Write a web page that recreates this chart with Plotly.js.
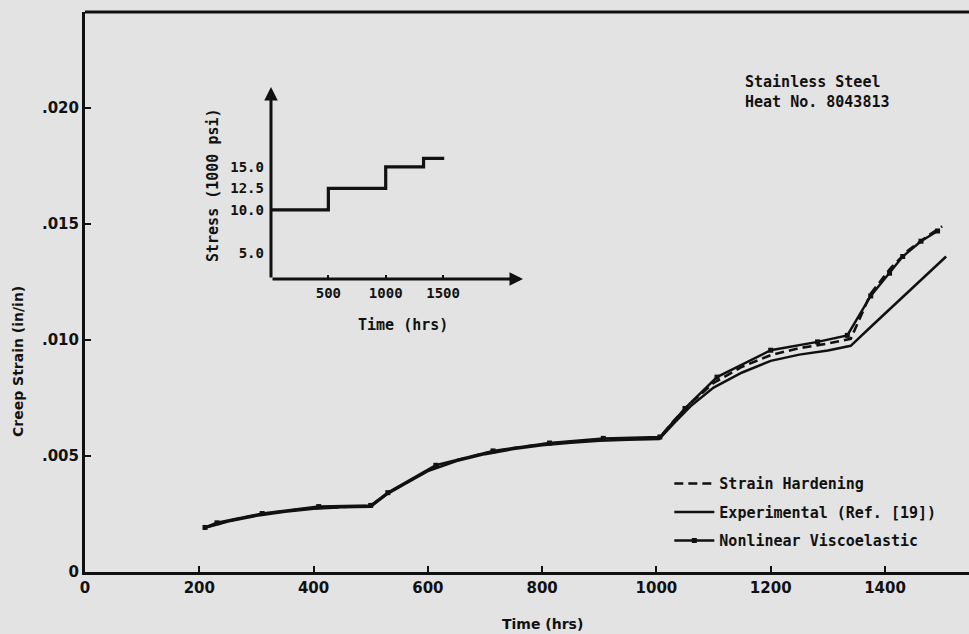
<!DOCTYPE html>
<html>
<head>
<meta charset="utf-8">
<script src="https://cdn.plot.ly/plotly-3.0.1.min.js"></script>
<style>html,body{margin:0;padding:0;background:#e3e3e3;}#chart{width:969px;height:634px;}</style>
</head>
<body>
<div id="chart"></div>
<script>
// ---- Main chart data (time in hours, creep strain in in/in) ----
const timeSH = [210, 250, 300, 350, 400, 450, 500, 530, 560, 600, 650, 700, 750, 800, 850, 900, 950, 1005, 1030, 1060, 1100, 1150, 1200, 1250, 1300, 1340, 1375, 1410, 1440, 1470, 1500];
const strainSH = [0.00192, 0.00220, 0.00245, 0.00263, 0.00276, 0.00282, 0.00285, 0.00340, 0.00383, 0.00438, 0.00482, 0.00512, 0.00534, 0.00550, 0.00561, 0.00570, 0.00574, 0.00577, 0.00650, 0.00728, 0.00815, 0.00885, 0.00935, 0.00965, 0.00985, 0.01005, 0.01200, 0.01310, 0.01385, 0.01440, 0.01490];

const timeExp = [210, 250, 300, 350, 400, 450, 500, 530, 560, 600, 650, 700, 750, 800, 850, 900, 950, 1005, 1030, 1060, 1100, 1150, 1200, 1250, 1300, 1340, 1380, 1420, 1460, 1507];
const strainExp = [0.00190, 0.00218, 0.00242, 0.00260, 0.00273, 0.00279, 0.00281, 0.00338, 0.00380, 0.00435, 0.00478, 0.00508, 0.00530, 0.00546, 0.00557, 0.00566, 0.00570, 0.00573, 0.00640, 0.00715, 0.00795, 0.00860, 0.00910, 0.00937, 0.00955, 0.00975, 0.01068, 0.01160, 0.01252, 0.01360];

const timeNV = [210, 231, 310, 409, 500, 530, 614, 714, 813, 907, 1006, 1050, 1106, 1200, 1282, 1334, 1375, 1408, 1431, 1463, 1492];
const strainNV = [0.00192, 0.00212, 0.00252, 0.00282, 0.00287, 0.00342, 0.00460, 0.00522, 0.00556, 0.00576, 0.00582, 0.00705, 0.00840, 0.00956, 0.00992, 0.01020, 0.01190, 0.01288, 0.01360, 0.01426, 0.01470];

const xTickVals = [0, 200, 400, 600, 800, 1000, 1200, 1400];
const xTickText = ['0', '200', '400', '600', '800', '1000', '1200', '1400'];
const yTickVals = [0, 0.005, 0.010, 0.015, 0.020];
const yTickText = ['0', '.005', '.010', '.015', '.020'];

// ---- Inset data (stress history) ----
const insetTime = [0, 500, 1000, 1330, 1510];
const insetStress = [10.0, 12.5, 15.0, 16.0, 16.0];
const insetXTickVals = [500, 1000, 1500];
const insetXTickText = ['500', '1000', '1500'];
const insetYTickVals = [5.0, 10.0, 12.5, 15.0];
const insetYTickText = ['5.0', '10.0', '12.5', '15.0'];

const ink = '#111111';
const bg = '#e3e3e3';
const mono = 'DejaVu Sans Mono, Liberation Mono, monospace';
const sansB = 'DejaVu Sans, Liberation Sans, sans-serif';

const traces = [
  {x: timeSH, y: strainSH, type: 'scatter', mode: 'lines', name: 'Strain Hardening',
   legendgroup: 'a', line: {color: ink, width: 2.6, dash: '9px,5px'}, xaxis: 'x', yaxis: 'y'},
  {x: timeExp, y: strainExp, type: 'scatter', mode: 'lines', name: 'Experimental (Ref. [19])',
   legendgroup: 'b', line: {color: ink, width: 2.5}, xaxis: 'x', yaxis: 'y'},
  {x: timeNV, y: strainNV, type: 'scatter', mode: 'lines+markers', name: 'Nonlinear Viscoelastic',
   legendgroup: 'c', line: {color: ink, width: 2.5}, marker: {symbol: 'square', size: 5, color: ink},
   xaxis: 'x', yaxis: 'y'},
  {x: insetTime, y: insetStress, type: 'scatter', mode: 'lines', showlegend: false,
   line: {color: ink, width: 3.2, shape: 'hv'}, xaxis: 'x2', yaxis: 'y2'}
];

const insetXMax = 2197, insetYMin = 1.96, insetYMax = 24.3;

const layout = {
  width: 969, height: 634,
  margin: {l: 85, r: 0, t: 12, b: 62},
  paper_bgcolor: bg, plot_bgcolor: bg,
  showlegend: true,
  legend: {x: 0.661, y: 0.187, xanchor: 'left', yanchor: 'top', bgcolor: 'rgba(0,0,0,0)',
           font: {family: mono, size: 15, color: ink, weight: 'bold'},
           traceorder: 'grouped', tracegroupgap: 6, itemwidth: 40},
  xaxis: {range: [0, 1547], tickvals: xTickVals, ticktext: xTickText, showgrid: false, zeroline: false,
          showline: true, linecolor: ink, linewidth: 3, ticks: 'inside', ticklen: 6, tickwidth: 2,
          tickcolor: ink, tickfont: {family: sansB, size: 15, color: ink, weight: 'bold'}, fixedrange: true},
  yaxis: {range: [0, 0.02414], tickvals: yTickVals, ticktext: yTickText, showgrid: false, zeroline: false,
          showline: true, linecolor: ink, linewidth: 3, ticks: 'inside', ticklen: 6, tickwidth: 2,
          tickcolor: ink, tickfont: {family: sansB, size: 15, color: ink, weight: 'bold'}, fixedrange: true},
  xaxis2: {domain: [0.2104, 0.4955], anchor: 'y2', range: [0, insetXMax], tickvals: insetXTickVals,
           ticktext: insetXTickText, showgrid: false, zeroline: false, showline: false,
           ticks: 'inside', ticklen: 4, tickwidth: 2, tickcolor: ink, ticklabelstandoff: 4,
           tickfont: {family: mono, size: 14, color: ink, weight: 'bold'}, fixedrange: true},
  yaxis2: {domain: [0.5232, 0.8661], anchor: 'x2', range: [insetYMin, insetYMax], tickvals: insetYTickVals,
           ticktext: insetYTickText, showgrid: false, zeroline: false, showline: false, ticks: '',
           ticklabelstandoff: 6,
           tickfont: {family: mono, size: 14, color: ink, weight: 'bold'}, fixedrange: true},
  shapes: [
    {type: 'line', xref: 'paper', yref: 'paper', x0: 0, x1: 1, y0: 1, y1: 1, line: {color: ink, width: 3}}
  ],
  annotations: [
    // inset axis arrows
    {xref: 'x2', yref: 'y2', x: insetXMax, y: insetYMin, axref: 'x2', ayref: 'y2', ax: 0, ay: insetYMin,
     text: '', showarrow: true, arrowhead: 2, arrowsize: 0.9, arrowwidth: 3, arrowcolor: ink},
    {xref: 'x2', yref: 'y2', x: 0, y: insetYMax, axref: 'x2', ayref: 'y2', ax: 0, ay: insetYMin,
     text: '', showarrow: true, arrowhead: 2, arrowsize: 0.9, arrowwidth: 3, arrowcolor: ink},
    // inset titles
    {xref: 'paper', yref: 'paper', x: (403 - 85) / 884, y: (572 - 325) / 560, xanchor: 'center', yanchor: 'middle',
     text: 'Time (hrs)', showarrow: false, font: {family: mono, size: 15, color: ink, weight: 'bold'}},
    {xref: 'paper', yref: 'paper', x: (213 - 85) / 884, y: (572 - 185) / 560, xanchor: 'center', yanchor: 'middle',
     text: 'Stress (1000 psi)', textangle: -90, showarrow: false,
     font: {family: mono, size: 15, color: ink, weight: 'bold'}},
    // main axis titles
    {xref: 'paper', yref: 'paper', x: (542 - 85) / 884, y: (572 - 624) / 560, xanchor: 'center', yanchor: 'middle',
     text: 'Time (hrs)', showarrow: false, font: {family: sansB, size: 14, color: ink, weight: 'bold'}},
    {xref: 'paper', yref: 'paper', x: (18 - 85) / 884, y: (572 - 362) / 560, xanchor: 'center', yanchor: 'middle',
     text: 'Creep Strain (in/in)', textangle: -90, showarrow: false,
     font: {family: sansB, size: 14, color: ink, weight: 'bold'}},
    // material note
    {xref: 'paper', yref: 'paper', x: (743 - 85) / 884, y: (572 - 92) / 560, xanchor: 'left', yanchor: 'middle',
     align: 'left', text: 'Stainless Steel<br>Heat No. 8043813', showarrow: false,
     font: {family: mono, size: 15, color: ink, weight: 'bold'}}
  ]
};

Plotly.newPlot('chart', traces, layout, {displayModeBar: false, staticPlot: true});
</script>
</body>
</html>
